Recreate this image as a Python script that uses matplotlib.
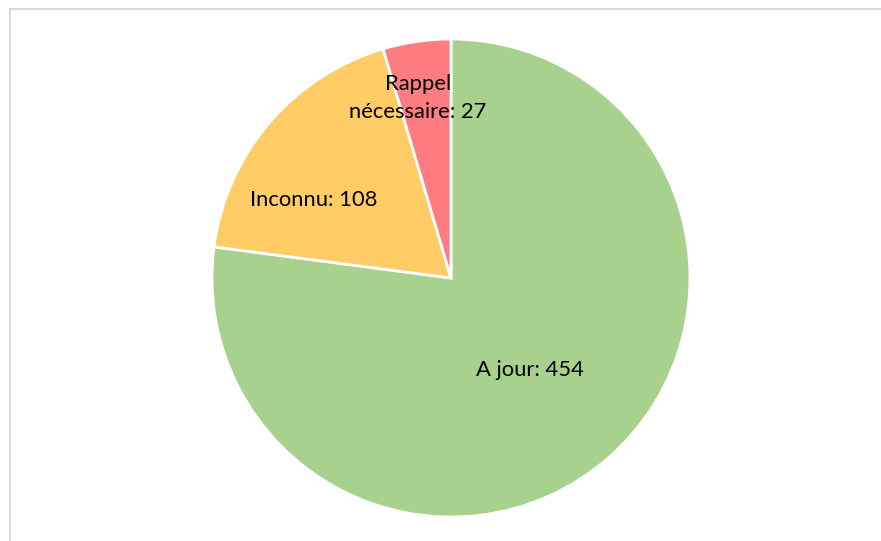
import matplotlib.pyplot as plt
from matplotlib.patches import Rectangle

# data
categories = ['A jour', 'Inconnu', 'Rappel\nnécessaire']
counts = [454, 108, 27]
colors = ['#A9D18E', '#FFCC66', '#FF7C80']

W, H = 881, 541
fig = plt.figure(figsize=(W / 100, H / 100), dpi=100)

# pie centre ~ (451, 278) px, radius ~ 239 px
cx, cy, r = 451, 278, 239
ax = fig.add_axes([(cx - r) / W, (H - cy - r) / H, 2 * r / W, 2 * r / H])
wedges, _ = ax.pie(counts, colors=colors, startangle=90, counterclock=False,
                   wedgeprops=dict(edgecolor='white', linewidth=2))
ax.set_xlim(-1, 1)
ax.set_ylim(-1, 1)

# label spots (in radius units, Excel's best fit)
label_pos = [(0.331, -0.385), (-0.573, 0.326), (-0.138, 0.753)]
for name, n, (x, y) in zip(categories, counts, label_pos):
    ax.text(x, y, f'{name}: {n}', ha='center', va='center', fontsize=15.8,
            family='Lato', color='black', linespacing=1.45)

# light grey chart frame
fig.patches.append(Rectangle((9.5 / W, -0.05), 1.1, (H - 8.5) / H + 0.05,
                             transform=fig.transFigure, fill=False,
                             edgecolor='#d9d9d9', linewidth=1.4))

fig.savefig('out.png', dpi=100)
